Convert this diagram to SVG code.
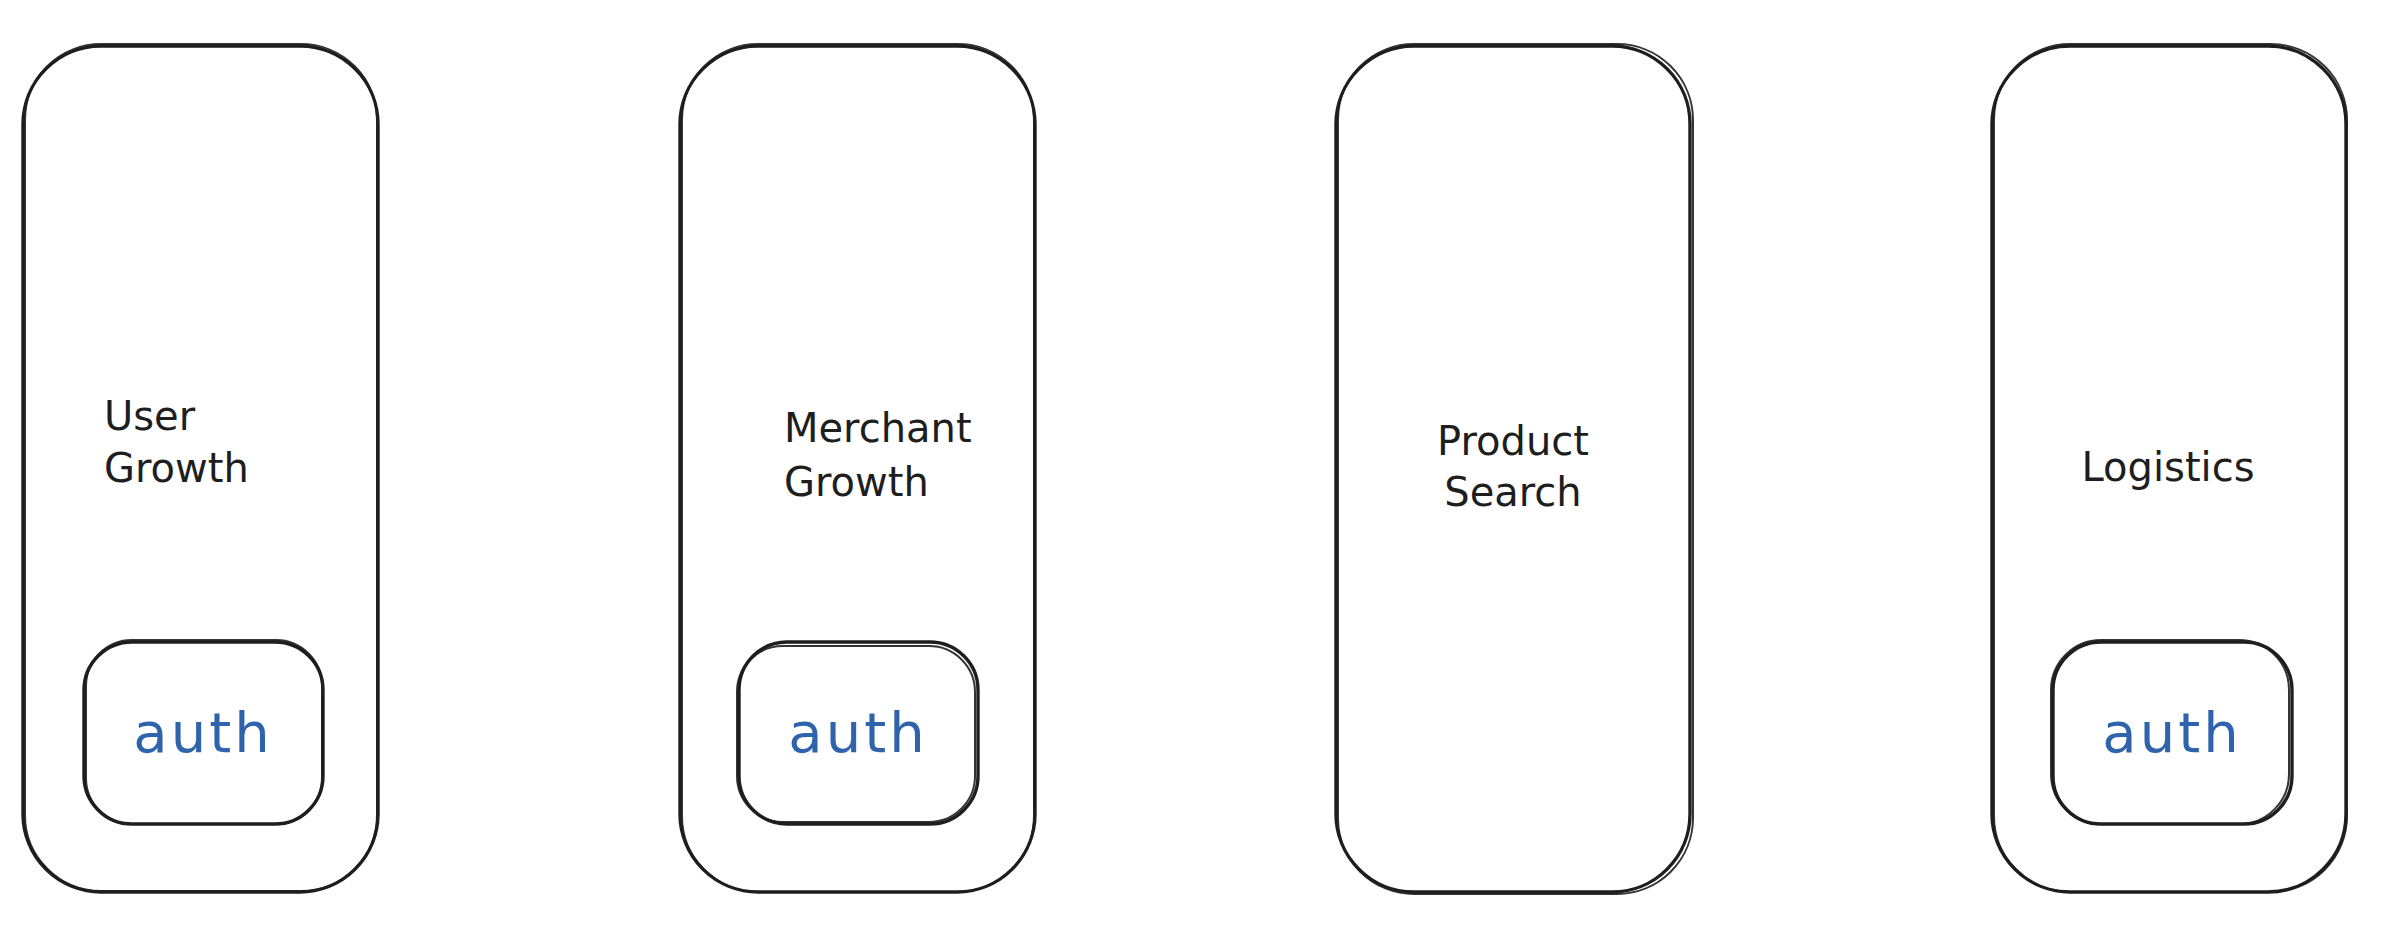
<svg xmlns="http://www.w3.org/2000/svg" width="2392" height="948" viewBox="0 0 2392 948">
<style>
.s{fill:none;stroke:#1e1e1e;stroke-width:3.4;stroke-linejoin:round}
.s2{fill:none;stroke:#1e1e1e;stroke-width:2;opacity:0.9}
.lbl{font-family:"DejaVu Sans",sans-serif;font-size:40px;fill:#1e1e1e}
.auth{font-family:"DejaVu Sans",sans-serif;font-size:56px;fill:#2f64ad;letter-spacing:3px}
</style>
<rect width="2392" height="948" fill="#ffffff"/>
<g id="user-growth">
<rect class="s" x="23" y="46" width="355" height="846" rx="78"/>
<rect class="s2" x="25" y="44" width="352" height="847" rx="76"/>
<text class="lbl" x="104" y="430">User</text>
<text class="lbl" x="104" y="482">Growth</text>
</g>
<g id="user-growth-auth">
<rect class="s" x="84" y="642" width="239" height="182" rx="48"/>
<rect class="s2" x="86" y="640" width="236" height="184" rx="46"/>
<text class="auth" x="203" y="752" text-anchor="middle">auth</text>
</g>
<g id="merchant-growth">
<rect class="s" x="680" y="46" width="355" height="846" rx="78"/>
<rect class="s2" x="682" y="44" width="352" height="848" rx="76"/>
<text class="lbl" x="784" y="442">Merchant</text>
<text class="lbl" x="784" y="496">Growth</text>
</g>
<g id="merchant-growth-auth">
<rect class="s" x="739" y="642" width="239" height="182" rx="48"/>
<rect class="s2" x="737" y="646" width="238" height="176" rx="46"/>
<text class="auth" x="858" y="752" text-anchor="middle">auth</text>
</g>
<g id="product-search">
<rect class="s" x="1336" y="46" width="354" height="846" rx="78"/>
<rect class="s2" x="1338" y="44" width="355" height="850" rx="76"/>
<text class="lbl" x="1513" y="455" text-anchor="middle">Product</text>
<text class="lbl" x="1513" y="506" text-anchor="middle">Search</text>
</g>
<g id="logistics">
<rect class="s" x="1992" y="46" width="354" height="846" rx="78"/>
<rect class="s2" x="1994" y="44" width="353" height="848" rx="76"/>
<text class="lbl" x="2168" y="481" text-anchor="middle">Logistics</text>
</g>
<g id="logistics-auth">
<rect class="s" x="2053" y="642" width="239" height="182" rx="48"/>
<rect class="s2" x="2051" y="640" width="238" height="184" rx="50"/>
<text class="auth" x="2172" y="752" text-anchor="middle">auth</text>
</g>
<g id="connectors"></g>
</svg>
